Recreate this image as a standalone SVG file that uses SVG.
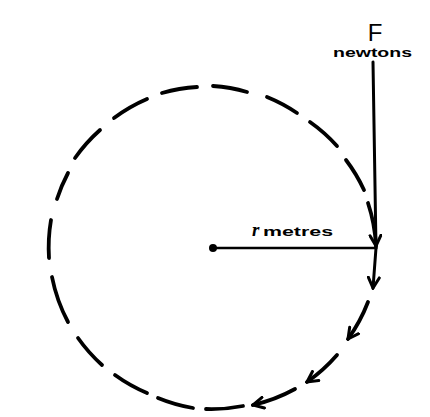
<svg xmlns="http://www.w3.org/2000/svg" width="430" height="417" viewBox="0 0 430 417">
<style>
.dash{fill:none;stroke:#000;stroke-width:3.8;stroke-linecap:round}
.ln{fill:none;stroke:#000;stroke-width:3;stroke-linecap:round}
.arr{marker-end:url(#ah)}
.lbl{font-family:"Liberation Sans",Arial,sans-serif;fill:#000}
</style>
<defs>
<marker id="ah" viewBox="0 0 14 14" refX="12" refY="7" markerWidth="14" markerHeight="14" markerUnits="userSpaceOnUse" orient="auto">
<path d="M1.5,1.5 L12,7 L1.5,12.5" fill="none" stroke="#000" stroke-width="3" stroke-linecap="round" stroke-linejoin="miter"/>
</marker>
</defs>
<rect width="430" height="417" fill="#fff"/>
<g id="circle-path">
<path class="dash" d="M49,258 A163,163 0 0 1 51,220"/>
<path class="dash" d="M57,199 A163,163 0 0 1 68,173"/>
<path class="dash" d="M75,158 A163,163 0 0 1 100,130"/>
<path class="dash" d="M114,118 A163,163 0 0 1 147,99"/>
<path class="dash" d="M162,93 A163,163 0 0 1 197,87"/>
<path class="dash" d="M213,86 A163,163 0 0 1 247,92"/>
<path class="dash" d="M267,97 A163,163 0 0 1 297,113"/>
<path class="dash" d="M310,122 A163,163 0 0 1 337,146"/>
<path class="dash" d="M346,160 A163,163 0 0 1 364,190"/>
<path class="dash arr" d="M368,203 A163,163 0 0 1 376,246"/>
<path class="dash arr" d="M368,302 A163,163 0 0 1 348,339"/>
<path class="dash arr" d="M337,355 A163,163 0 0 1 307,382"/>
<path class="dash arr" d="M295,389 A163,163 0 0 1 253,405"/>
<path class="dash" d="M243,406 A163,163 0 0 1 206,409"/>
<path class="dash" d="M193,408 A163,163 0 0 1 158,398"/>
<path class="dash" d="M147,393 A163,163 0 0 1 115,375"/>
<path class="dash" d="M102,365 A163,163 0 0 1 78,338"/>
<path class="dash" d="M68,322 A163,163 0 0 1 52,277"/>
</g>
<g id="connectors">
<path class="ln" d="M373,62 L376,248"/>
<path class="ln arr" d="M376,248 L373,288"/>
<path class="ln" d="M213,248 L376,248" style="stroke-width:2.6"/>
</g>
<g id="centre">
<circle cx="213" cy="248" r="4" fill="#000"/>
</g>
<g id="force-label">
<text class="lbl" x="375" y="41" font-size="24" text-anchor="middle">F</text>
<text class="lbl" x="333" y="57" font-size="13" font-weight="bold" textLength="79" lengthAdjust="spacingAndGlyphs">newtons</text>
</g>
<g id="radius-label">
<text x="252" y="236" font-family="'Liberation Serif',serif" font-size="19" font-weight="bold" font-style="italic">r</text>
<text class="lbl" x="263" y="236" font-size="13" font-weight="bold" textLength="70" lengthAdjust="spacingAndGlyphs">metres</text>
</g>
</svg>
